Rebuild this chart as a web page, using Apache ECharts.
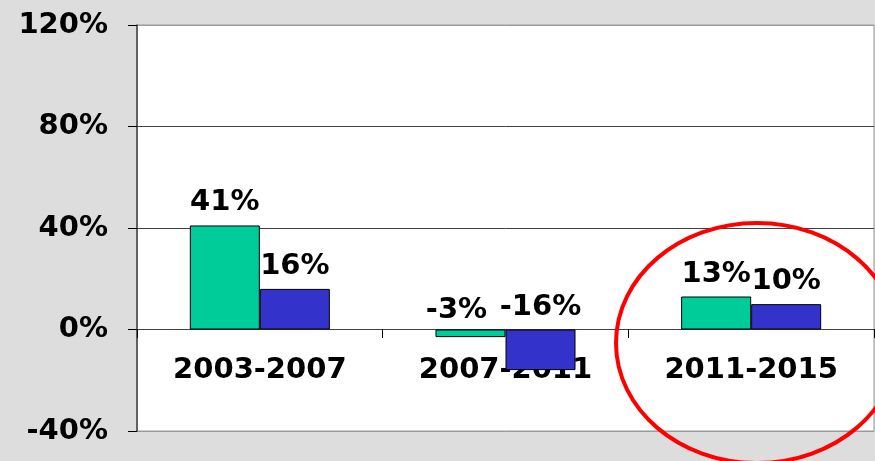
<!DOCTYPE html>
<html><head><meta charset="utf-8">
<script src="https://cdn.jsdelivr.net/npm/echarts@6/dist/echarts.min.js"></script>
<style>html,body{margin:0;padding:0;background:#dddddd}#c{width:875px;height:461px}</style>
</head><body><div id="c"></div>
<script>
const categories = ['2003-2007', '2007-2011', '2011-2015'];
const seriesA = [41, -3, 13];
const seriesB = [16, -16, 10];
const yTicks = [-40, 0, 40, 80, 120];

const font = '"DejaVu Sans", Verdana, sans-serif';
const chart = echarts.init(document.getElementById('c'));
function labelCfg(){
  return {show: true, position: 'top', distance: 8, color: '#000', fontFamily: font, fontWeight: 'bold', fontSize: 29,
    formatter: p => p.value + '%'};
}
const dataA = seriesA.map((v, i) => (i === 1 ? {value: v, label: {offset: [-14, 3]}} : v));
chart.setOption({
  backgroundColor: '#dddddd',
  animation: false,
  grid: {left: 137, right: 1, top: 25, bottom: 30, containLabel: false, outerBoundsMode: 'none',
    show: true, backgroundColor: '#fff', borderColor: '#9a9a9a', borderWidth: 1},
  xAxis: {
    type: 'category', data: categories, position: 'bottom', offset: -102,
    axisLine: {onZero: false, lineStyle: {color: '#404040', width: 1}},
    axisTick: {show: true, length: 9, lineStyle: {color: '#000'}},
    axisLabel: {color: '#000', fontFamily: font, fontWeight: 'bold', fontSize: 29, margin: 27}
  },
  yAxis: {
    type: 'value', min: yTicks[0], max: yTicks[yTicks.length - 1], interval: 40,
    axisLine: {show: true, lineStyle: {color: '#404040', width: 1.5}},
    axisTick: {show: true, length: 9, lineStyle: {color: '#000'}},
    axisLabel: {color: '#000', fontFamily: font, fontWeight: 'bold', fontSize: 29, margin: 29, formatter: v => v + '%'},
    splitLine: {show: true, lineStyle: {color: ['#9a9a9a', '#404040', '#404040', '#404040', '#9a9a9a'], width: 1}}
  },
  series: [
    {type: 'bar', data: dataA, barGap: '0%', barCategoryGap: '43%',
     itemStyle: {color: '#00cc99', borderColor: '#000', borderWidth: 1}, label: labelCfg()},
    {type: 'bar', data: seriesB,
     itemStyle: {color: '#3333cc', borderColor: '#000', borderWidth: 1}, label: labelCfg()}
  ],
  graphic: [{type: 'ellipse', shape: {cx: 757, cy: 343, rx: 141, ry: 120}, z: 100,
    style: {fill: 'none', stroke: '#ff0000', lineWidth: 4}}]
});
</script></body></html>
